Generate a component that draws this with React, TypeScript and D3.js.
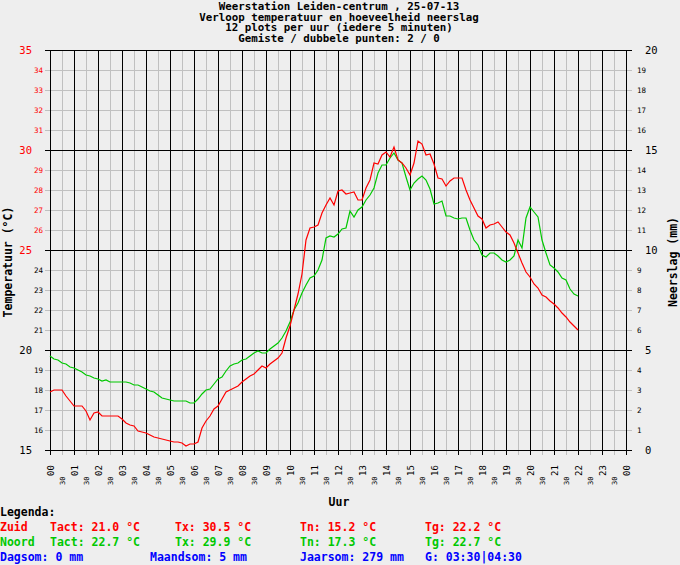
import * as d3 from "d3";

const TITLE_LINES = [
  "Weerstation Leiden-centrum , 25-07-13",
  "Verloop temperatuur en hoeveelheid neerslag",
  "12 plots per uur (iedere 5 minuten)",
  "Gemiste / dubbele punten: 2 / 0",
];

// temperature (°C) every 10 minutes, 00:00 .. 22:00
const STEP_MIN = 10;
const ZUID = [
  17.9, 18.0, 18.0, 18.0, 17.7, 17.45,
  17.2, 17.2, 17.2, 16.95, 16.5, 16.85,
  16.9, 16.7, 16.7, 16.7, 16.7, 16.7,
  16.55, 16.35, 16.25, 16.2, 15.95, 15.9,
  15.85, 15.75, 15.65, 15.6, 15.55, 15.5,
  15.45, 15.4, 15.4, 15.35, 15.2, 15.3,
  15.3, 15.4, 16.1, 16.45, 16.7, 17.05,
  17.2, 17.55, 17.9, 18.0, 18.1, 18.2,
  18.4, 18.55, 18.7, 18.8, 19.0, 19.2,
  19.1, 19.3, 19.45, 19.6, 19.85, 20.6,
  21.2, 22.0, 22.8, 23.8, 25.5, 26.1,
  26.15, 26.25, 26.85, 27.25, 27.6, 27.25,
  27.95, 28.0, 27.8, 27.85, 27.9, 27.5,
  27.5, 28.1, 28.5, 29.35, 29.3, 29.75,
  29.9, 29.65, 30.15, 29.5, 29.35, 29.1,
  28.75, 29.35, 30.45, 30.3, 29.75, 29.8,
  29.3, 28.6, 28.55, 28.2, 28.45, 28.6,
  28.6, 28.6, 28.0, 27.5, 27.1, 26.7,
  26.55, 26.1, 26.25, 26.3, 26.4, 26.15,
  25.9, 25.75, 25.35, 24.85, 24.35, 23.9,
  23.65, 23.3, 23.1, 22.75, 22.65, 22.45,
  22.3, 22.1, 21.85, 21.65, 21.4, 21.2,
  21.0,
];
const NOORD = [
  19.7, 19.55, 19.5, 19.35, 19.3, 19.15,
  19.1, 19.0, 18.9, 18.75, 18.7, 18.6,
  18.55, 18.45, 18.5, 18.4, 18.4, 18.4,
  18.4, 18.4, 18.35, 18.25, 18.25, 18.15,
  18.05, 17.95, 17.9, 17.75, 17.6, 17.55,
  17.5, 17.45, 17.45, 17.45, 17.45, 17.35,
  17.35, 17.55, 17.8, 18.0, 18.05, 18.3,
  18.55, 18.65, 18.95, 19.2, 19.3, 19.35,
  19.5, 19.55, 19.7, 19.85, 19.95, 19.85,
  19.85, 20.05, 20.2, 20.35, 20.6, 20.95,
  21.4, 22.0, 22.35, 22.85, 23.25, 23.6,
  23.7, 24.0, 24.5, 25.6, 25.7, 25.65,
  25.8, 26.05, 26.1, 26.95, 26.65, 27.0,
  27.15, 27.5, 27.75, 28.1, 28.85, 29.25,
  29.25, 29.6, 29.85, 29.5, 29.35, 28.65,
  28.0, 28.35, 28.55, 28.7, 28.5, 28.05,
  27.3, 27.35, 27.45, 26.7, 26.7, 26.6,
  26.55, 26.6, 26.6, 26.0, 25.5, 25.25,
  24.75, 24.65, 24.85, 24.85, 24.7, 24.5,
  24.4, 24.5, 24.7, 25.5, 25.1, 26.6,
  27.15, 26.9, 26.65, 25.5, 24.85, 24.25,
  24.1, 23.9, 23.6, 23.5, 23.05, 22.8,
  22.7,
];

const LEGEND_ZUID = ["Tact: 21.0 °C", "Tx: 30.5 °C", "Tn: 15.2 °C", "Tg: 22.2 °C"];
const LEGEND_NOORD = ["Tact: 22.7 °C", "Tx: 29.9 °C", "Tn: 17.3 °C", "Tg: 22.7 °C"];
const LEGEND_RAIN = ["Dagsom: 0 mm", "Maandsom: 5 mm", "Jaarsom: 279 mm", "G: 03:30|04:30"];

const W = 680;
const H = 565;
const BOX = { left: 50, right: 626, top: 50, bottom: 450 };
const FONT = "'DejaVu Sans Mono', monospace";
const RED = "#ff0000";
const GREEN = "#00c800";
const BLUE = "#0000ff";
const GRID = "#c0c0c0";

export default function App() {
  const x = d3.scaleLinear().domain([0, 24]).range([BOX.left, BOX.right]);
  const yT = d3.scaleLinear().domain([15, 35]).range([BOX.bottom, BOX.top]);
  const yR = d3.scaleLinear().domain([0, 20]).range([BOX.bottom, BOX.top]);

  const line = d3
    .line<number>()
    .x((_, i) => x((i * STEP_MIN) / 60))
    .y((d) => yT(d));

  const tempTicks = d3.range(15, 36);
  const rainTicks = d3.range(0, 21);
  const halfHours = d3.range(0, 24.5, 0.5);
  const pad = (n: number) => String(n % 24).padStart(2, "0");

  const legendCols = [50, 175, 300, 425];
  const rainCols = [0, 150, 300, 425];

  return (
    <svg
      width={W}
      height={H}
      style={{ position: "absolute", left: 0, top: 0, background: "#eeeeee" }}
      fontFamily={FONT}
    >
      {/* title */}
      {TITLE_LINES.map((t, i) => (
        <text key={t} x={339} y={10 + i * 10.6} textAnchor="middle" fontSize={10.8} fontWeight="bold">
          {t}
        </text>
      ))}

      {/* grid: minor first, then major */}
      <g shapeRendering="crispEdges">
        {tempTicks
          .filter((t) => t % 5 !== 0)
          .map((t) => (
            <line key={"hm" + t} x1={BOX.left - 5} x2={BOX.right + 6} y1={yT(t)} y2={yT(t)} stroke={GRID} />
          ))}
        {halfHours
          .filter((h) => h % 1 !== 0)
          .map((h) => (
            <line key={"vm" + h} x1={x(h)} x2={x(h)} y1={BOX.top} y2={BOX.bottom + 5} stroke={GRID} />
          ))}
        {halfHours
          .filter((h) => h % 1 === 0)
          .map((h) => (
            <line key={"vM" + h} x1={x(h)} x2={x(h)} y1={BOX.top} y2={BOX.bottom + 5} stroke="#000" />
          ))}
        {tempTicks
          .filter((t) => t % 5 === 0)
          .map((t) => (
            <line key={"hM" + t} x1={BOX.left - 5} x2={BOX.right + 6} y1={yT(t)} y2={yT(t)} stroke="#000" />
          ))}
      </g>

      {/* left axis labels */}
      {tempTicks.map((t) => {
        const major = t % 5 === 0;
        return (
          <text
            key={"lt" + t}
            x={major ? 32 : 43}
            y={yT(t)}
            textAnchor="end"
            dominantBaseline="central"
            fontSize={major ? 10.5 : 7.5}
            fill={t >= 25 ? RED : "#000"}
          >
            {t}
          </text>
        );
      })}

      {/* right axis labels */}
      {rainTicks.map((r) => {
        const major = r % 5 === 0;
        return (
          <text
            key={"rt" + r}
            x={major ? 645 : 637}
            y={yR(r)}
            dominantBaseline="central"
            fontSize={major ? 10.5 : 7.5}
            fill="#000"
          >
            {r}
          </text>
        );
      })}

      {/* x axis labels */}
      {halfHours.map((h) => {
        const whole = h % 1 === 0;
        const cx = x(h) + (whole ? 0.5 : 1);
        const cy = whole ? 476 : 485;
        return (
          <text
            key={"xt" + h}
            transform={`translate(${cx},${cy}) rotate(-90)`}
            dominantBaseline="central"
            fontSize={whole ? 9 : 7}
            fill="#000"
          >
            {whole ? pad(h) : "30"}
          </text>
        );
      })}

      {/* axis titles */}
      <text x={339} y={506} textAnchor="middle" fontSize={11.5} fontWeight="bold">
        Uur
      </text>
      <text
        transform="translate(8,262) rotate(-90)"
        textAnchor="middle"
        dominantBaseline="central"
        fontSize={11.5}
        fontWeight="bold"
      >
        Temperatuur (°C)
      </text>
      <text
        transform="translate(673,262) rotate(-90)"
        textAnchor="middle"
        dominantBaseline="central"
        fontSize={11.5}
        fontWeight="bold"
      >
        Neerslag (mm)
      </text>

      {/* series */}
      <path d={line(NOORD) ?? ""} fill="none" stroke={GREEN} strokeWidth={1.2} />
      <path d={line(ZUID) ?? ""} fill="none" stroke={RED} strokeWidth={1.2} />

      {/* legend */}
      <g fontSize={11.5} fontWeight="bold">
        <text x={0} y={516}>
          Legenda:
        </text>
        <text x={0} y={531} fill={RED}>
          Zuid
        </text>
        {LEGEND_ZUID.map((s, i) => (
          <text key={s} x={legendCols[i]} y={531} fill={RED}>
            {s}
          </text>
        ))}
        <text x={0} y={546} fill={GREEN}>
          Noord
        </text>
        {LEGEND_NOORD.map((s, i) => (
          <text key={s} x={legendCols[i]} y={546} fill={GREEN}>
            {s}
          </text>
        ))}
        {LEGEND_RAIN.map((s, i) => (
          <text key={s} x={rainCols[i]} y={561} fill={BLUE}>
            {s}
          </text>
        ))}
      </g>
    </svg>
  );
}
